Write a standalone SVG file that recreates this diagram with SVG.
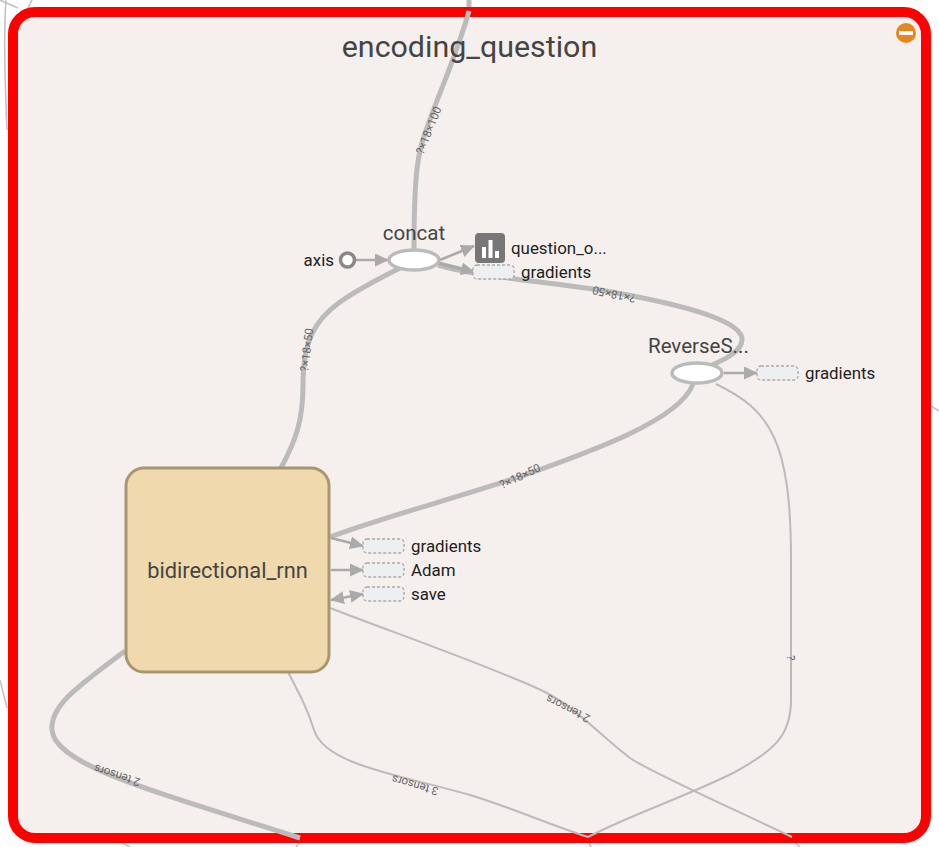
<svg xmlns="http://www.w3.org/2000/svg" width="939" height="847" viewBox="0 0 939 847">
<style>
text{font-family:Roboto,"Liberation Sans",sans-serif}
.bg{fill:none;stroke:#c2c2c2;stroke-width:1.6}
.thick{fill:none;stroke:#bbb;stroke-width:5}
.mid{fill:none;stroke:#bbb;stroke-width:2}
.short{fill:none;stroke:#aaa;stroke-width:2.500}
.shortb{fill:none;stroke:#aaa;stroke-width:3.500}
.el{font-size:11.500px;fill:#666}
.lbl{font-size:16.900px;fill:#222}
.opn{font-size:20.500px;fill:#444}
.op{fill:#fff;stroke:#bbb;stroke-width:3.500}
.stub{fill:#eeeff0;stroke:#aaa;stroke-width:1.300;stroke-dasharray:3 2}
</style>
<defs>
<marker id="arr" markerUnits="userSpaceOnUse" markerWidth="14" markerHeight="13" refX="13" refY="6.500" orient="auto-start-reverse"><path d="M0 0L14 6.500L0 13Z" fill="#aaa"/></marker>
</defs>
<rect width="939" height="847" fill="#fff"/>
<g id="background-edges">
<path class="bg" d="M6 0Q3 40 7 130"/>
<path class="bg" d="M0 0L18 8M32 0L28 8"/>
<path class="bg" d="M0 680L7 708"/>
<path class="bg" d="M931 406L939 411"/>
<path class="bg" d="M122 843L130 847M299 843L296 847M589 843L591 847M796 843L800 847"/>
<path d="M469 0L469 8" fill="none" stroke="#bbb" stroke-width="5"/>
</g>
<rect id="frame" x="13" y="12" width="913" height="826" rx="22" fill="#f5f0ee" stroke="#f00" stroke-width="10"/>
<g id="connectors">
<path class="thick" d="M469 11C455 60 440 90 428 125C418 150 414 170 414 250"/>
<path class="thick" d="M281 468C296 440 303 420 303 385C303 340 315 320 340 302C360 288 380 278 400 268"/>
<path class="thick" d="M438 265C470 275 530 280 600 290C670 302 738 318 742 338C743 350 728 358 712 365"/>
<path class="thick" d="M330 537C390 515 450 500 522 476C590 452 680 420 693 384"/>
<path class="thick" d="M125 651C80 685 50 705 52 730C55 765 150 790 300 838"/>
<path class="mid" d="M330 608C400 635 500 670 545 692C575 707 600 735 630 758C650 772 740 812 792 837"/>
<path class="mid" d="M288 672C300 695 308 710 314 730C325 765 400 775 470 795C510 807 550 825 588 837"/>
<path class="mid" d="M716 384C770 410 791 440 791 560L791 700C791 735 775 750 735 772C690 795 630 815 588 837"/>
<path class="short" d="M356 260H388" marker-end="url(#arr)"/>
<path class="short" d="M440 260L474 246" marker-end="url(#arr)"/>
<path class="shortb" d="M438 263L474 272" marker-end="url(#arr)"/>
<path class="short" d="M724 373H757" marker-end="url(#arr)"/>
<path class="short" d="M331 538L363 546" marker-end="url(#arr)"/>
<path class="short" d="M331 570H363" marker-end="url(#arr)"/>
<path class="short" d="M331 600L363 594" marker-start="url(#arr)" marker-end="url(#arr)"/>
</g>
<g id="edge-labels">
<text class="el" transform="translate(423 155) rotate(-68)">?×18×100</text>
<text class="el" transform="translate(308 372) rotate(-83)">?×18×50</text>
<text class="el" transform="translate(636 295) rotate(-168)">?×18×50</text>
<text class="el" transform="translate(502 489) rotate(-25)">?×18×50</text>
<text class="el" transform="translate(141 779) rotate(-162)">2 tensors</text>
<text class="el" transform="translate(439 788) rotate(-164)">3 tensors</text>
<text class="el" transform="translate(591 716) rotate(-153)">2 tensors</text>
<text class="el" transform="translate(787 655) rotate(90)">?</text>
</g>
<g id="title"><text x="469.500" y="57" text-anchor="middle" font-size="30.400" fill="#444">encoding_question</text></g>
<g id="collapse"><circle cx="906" cy="33" r="10" fill="#e8851f"/><rect x="899" y="31" width="14" height="4" fill="#fff"/></g>
<g id="node-axis"><circle cx="347.500" cy="260" r="7" fill="#fff" stroke="#888" stroke-width="3.500"/><text class="lbl" x="334" y="265.500" text-anchor="end">axis</text></g>
<g id="node-concat"><ellipse class="op" cx="414" cy="260" rx="25" ry="10"/><text class="opn" x="414" y="240" text-anchor="middle">concat</text></g>
<g id="node-question-output">
<rect x="475" y="233" width="30" height="30" rx="4" fill="#777"/>
<rect x="482" y="247" width="4" height="11" fill="#fff"/><rect x="488.500" y="240" width="4" height="18" fill="#fff"/><rect x="495" y="251" width="4" height="7" fill="#fff"/>
<text class="lbl" x="511" y="254">question_o...</text></g>
<g id="node-gradients-1"><rect class="stub" x="473" y="265" width="41" height="14" rx="4"/><text class="lbl" x="521" y="278">gradients</text></g>
<g id="node-reverse"><ellipse class="op" cx="697" cy="373" rx="25" ry="10"/><text class="opn" x="648" y="353">ReverseS...</text></g>
<g id="node-gradients-2"><rect class="stub" x="757" y="366" width="41" height="14" rx="4"/><text class="lbl" x="805" y="379">gradients</text></g>
<g id="node-rnn"><rect x="126" y="468" width="203" height="204" rx="18" fill="#f0d9ad" stroke="#a89672" stroke-width="3"/><text x="227.500" y="578" text-anchor="middle" font-size="21.800" fill="#444">bidirectional_rnn</text></g>
<g id="node-gradients-3"><rect class="stub" x="363" y="539" width="41" height="14" rx="4"/><text class="lbl" x="411" y="552">gradients</text></g>
<g id="node-adam"><rect class="stub" x="363" y="563" width="41" height="14" rx="4"/><text class="lbl" x="411" y="576">Adam</text></g>
<g id="node-save"><rect class="stub" x="363" y="587" width="41" height="14" rx="4"/><text class="lbl" x="411" y="600">save</text></g>
</svg>
